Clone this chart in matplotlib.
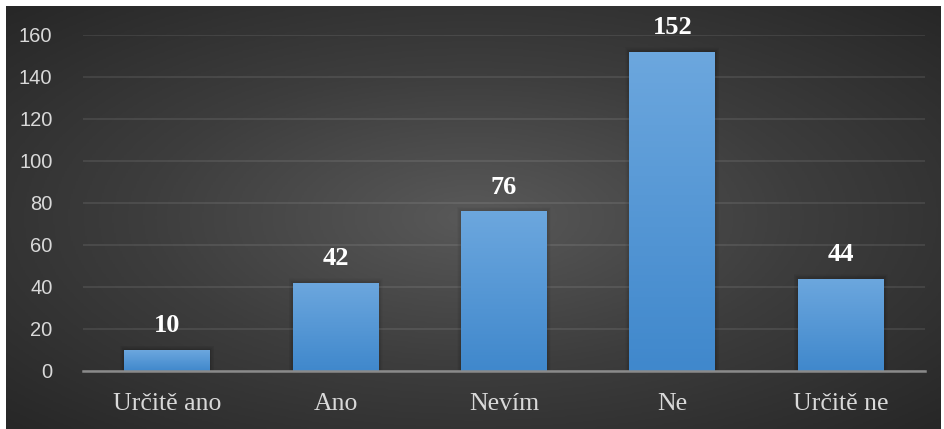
import numpy as np
import matplotlib
matplotlib.use("Agg")
from matplotlib import pyplot as plt
from matplotlib.colors import LinearSegmentedColormap

# data
categories = ["Určitě ano", "Ano", "Nevím", "Ne", "Určitě ne"]
values = [10, 42, 76, 152, 44]
yticks = [0, 20, 40, 60, 80, 100, 120, 140, 160]

fig = plt.figure(figsize=(9.44, 4.29), dpi=100)
fig.patch.set_facecolor("white")

# dark radial background
bg = fig.add_axes([6 / 944, 0, 935 / 944, 423 / 429], zorder=0)
yy, xx = np.mgrid[-1:1:300j, -1:1:600j]
r = np.sqrt(xx ** 2 + yy ** 2) / np.sqrt(2)
bg_cmap = LinearSegmentedColormap.from_list("bg", ["#595959", "#3d3d3d", "#272727"])
bg.imshow(r, cmap=bg_cmap, aspect="auto", extent=[0, 1, 0, 1], vmin=0, vmax=1)
bg.axis("off")

ax = fig.add_axes([83 / 944, 1 - 371 / 429, 842 / 944, 336 / 429], zorder=1)
ax.patch.set_alpha(0)

x = np.arange(len(categories))
bw = 0.51
bars = ax.bar(x, values, width=bw, color="#4f94d6", zorder=3)

# vertical gradient inside bars + soft shadow
grad = np.linspace(0, 1, 100).reshape(-1, 1)
bar_cmap = LinearSegmentedColormap.from_list("bar", ["#4088cc", "#6ca7de"])
for b, v in zip(bars, values):
    x0 = b.get_x()
    for k in range(1, 7):
        pad = k * 0.004
        ax.bar(x0 + bw / 2, v + k * 0.35, width=bw + 2 * pad, bottom=0,
               color="black", alpha=0.025, zorder=2, linewidth=0)
    im = ax.imshow(grad, cmap=bar_cmap, aspect="auto", origin="lower",
                   extent=[x0, x0 + bw, 0, v], zorder=3.5)
    im.set_clip_path(b)
    ax.annotate(str(v), (x0 + bw / 2, v), xytext=(0, 9), textcoords="offset points",
                ha="center", va="bottom", color="white", fontsize=19, fontweight="bold",
                family="Liberation Serif", annotation_clip=False, zorder=5)

ax.set_xlim(-0.5, len(categories) - 0.5)
ax.set_ylim(0, 160)
ax.set_yticks(yticks)
ax.set_xticks(x)
ax.set_xticklabels(categories, family="Liberation Serif", fontsize=18.5, color="#d9d9d9")
for lab in ax.get_yticklabels():
    lab.set_family("Liberation Sans")
    lab.set_fontsize(14.5)
    lab.set_color("#d9d9d9")
ax.tick_params(axis="both", length=0)
ax.tick_params(axis="y", pad=22)
ax.tick_params(axis="x", pad=16)
ax.yaxis.grid(True, color="#ffffff", alpha=0.1, linewidth=1.2, zorder=1)
ax.set_axisbelow(True)
for s in ["top", "right", "left"]:
    ax.spines[s].set_visible(False)
ax.spines["bottom"].set_color("#8a8a8a")
ax.spines["bottom"].set_linewidth(1.8)
ax.spines["bottom"].set_zorder(6)

fig.savefig("out.png", dpi=100, facecolor=fig.get_facecolor())
